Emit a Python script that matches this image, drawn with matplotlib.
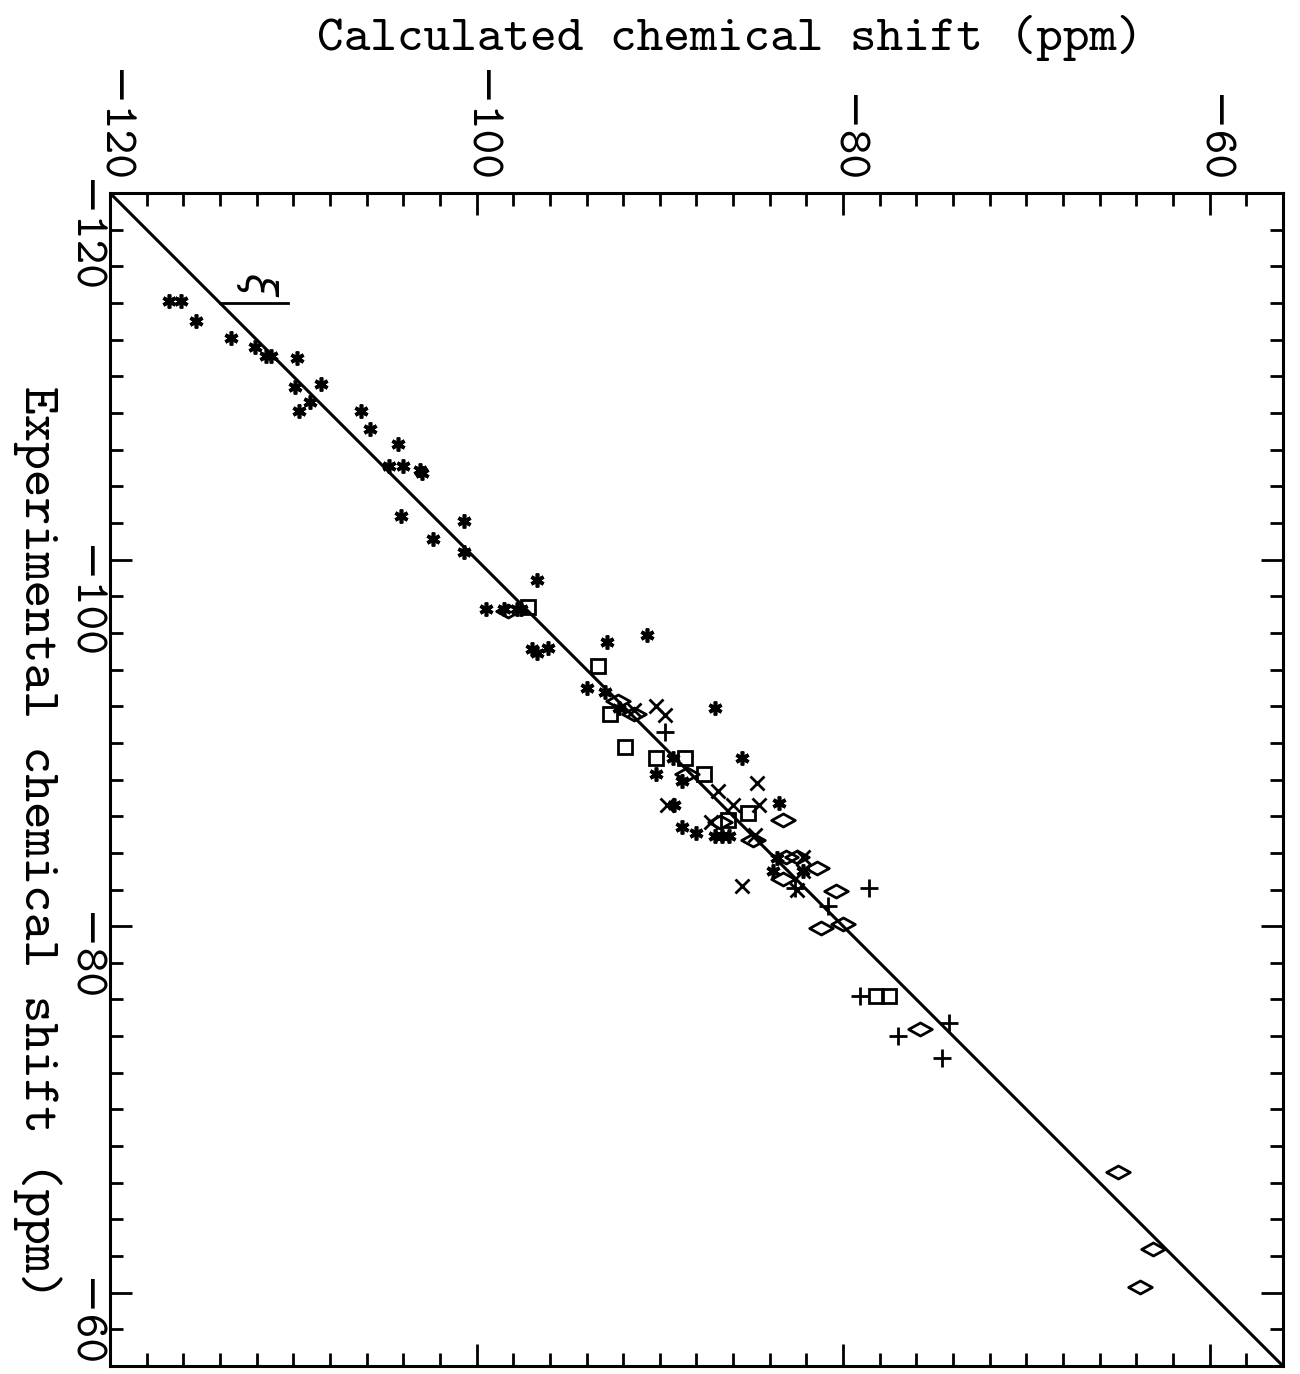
import numpy as np
import matplotlib
matplotlib.use('Agg')
import matplotlib.pyplot as plt
from matplotlib.ticker import MultipleLocator
from matplotlib.path import Path

plt.rcParams['font.family'] = ['cmtt10', 'DejaVu Serif']
plt.rcParams['axes.unicode_minus'] = True

# calculated shift (horizontal in picture) vs experimental shift (vertical, downward)
star_calc = [-116.8, -116.1, -115.3, -113.4, -112.1, -111.5, -111.2, -109.8, -109.9, -108.5,
             -109.1, -109.7, -106.3, -105.8, -104.3, -104.8, -104.0, -103.1, -103.0, -104.1,
             -100.7, -102.4, -100.7, -96.7, -99.5, -98.5, -97.8, -97.6, -97.0, -96.7,
             -96.1, -92.9, -90.7, -94.0, -93.0, -87.0, -89.3, -85.5, -90.2, -88.8,
             -89.2, -88.8, -88.0, -87.0, -86.6, -86.2, -83.5, -83.6, -83.8, -82.2, -92.2]
star_exp = [-114.1, -114.1, -113.0, -112.1, -111.6, -111.1, -111.1, -111.0, -109.4, -109.6,
            -108.6, -108.1, -108.1, -107.1, -106.3, -105.1, -105.1, -104.9, -104.7, -102.4,
            -102.1, -101.1, -100.4, -98.9, -97.3, -97.3, -97.3, -97.3, -95.1, -94.9,
            -95.2, -95.5, -95.9, -93.0, -92.8, -91.9, -89.2, -89.2, -88.3, -87.9,
            -86.6, -85.4, -85.1, -84.9, -84.9, -84.9, -86.7, -83.7, -83.0, -83.0, -91.9]

x_calc = [-91.4, -90.2, -89.7, -84.7, -86.8, -89.6, -86.0, -84.6, -87.2, -84.8,
          -82.2, -82.2, -85.5, -82.5]
x_exp = [-91.8, -92.0, -91.5, -87.8, -87.4, -86.6, -86.6, -86.6, -85.7, -85.0,
         -83.8, -83.0, -82.2, -82.0]

plus_calc = [-89.7, -82.6, -78.6, -80.8, -79.1, -77.0, -74.2, -74.6]
plus_exp = [-90.6, -82.1, -82.1, -81.1, -76.2, -74.0, -74.7, -72.8]

sq_calc = [-97.2, -93.4, -92.7, -91.9, -90.2, -88.6, -87.6, -85.2, -86.3, -78.2, -77.5]
sq_exp = [-97.4, -94.2, -91.6, -89.8, -89.2, -89.2, -88.3, -86.2, -85.8, -76.2, -76.2]

dia_calc = [-98.3, -92.3, -91.4, -88.5, -83.3, -86.7, -84.9, -83.1, -82.5, -81.4,
            -83.3, -80.4, -81.2, -80.0, -75.8, -65.0, -63.1, -63.8]
dia_exp = [-97.2, -92.3, -91.6, -88.3, -85.8, -85.7, -84.7, -83.8, -83.8, -83.2,
           -82.6, -81.9, -79.9, -80.1, -74.4, -66.6, -62.4, -60.3]

fit_line = [-120, -56]

fig = plt.figure(figsize=(13, 13.74), dpi=100)
ax = fig.add_axes([0.0846, 0.0058, 0.9023, 0.8537])

ax.plot(fit_line, fit_line, color='k', lw=2.2)
ax.plot([-114.0, -110.3], [-114.0, -114.0], color='k', lw=2.0)
ax.text(-112.0, -115.0, r'$\xi$', fontsize=30, rotation=-90, ha='center', va='center')

# wide diamond as in the scan
dmd = Path([(-1, 0), (0, 0.55), (1, 0), (0, -0.55), (-1, 0)],
           [Path.MOVETO, Path.LINETO, Path.LINETO, Path.LINETO, Path.CLOSEPOLY])

ax.plot(star_calc, star_exp, ls='none', marker=(6, 2, 0), ms=10, mew=2.6, color='k')
ax.plot(x_calc, x_exp, ls='none', marker='x', ms=10, mew=2.0, color='k')
ax.plot(plus_calc, plus_exp, ls='none', marker='+', ms=13, mew=2.0, color='k')
ax.plot(sq_calc, sq_exp, ls='none', marker='s', ms=10, mew=2.0, mfc='none', mec='k')
ax.plot(dia_calc, dia_exp, ls='none', marker=dmd, ms=17, mew=2.0, mfc='none', mec='k')

ax.set_xlim(-120, -56)
ax.set_ylim(-56, -120)

ax.xaxis.set_major_locator(MultipleLocator(20))
ax.xaxis.set_minor_locator(MultipleLocator(2))
ax.yaxis.set_major_locator(MultipleLocator(20))
ax.yaxis.set_minor_locator(MultipleLocator(2))

ax.tick_params(which='both', direction='in', top=True, bottom=True, left=True, right=True,
               labeltop=True, labelbottom=False, labelleft=True, labelright=False,
               width=2.0, colors='k')
ax.tick_params(which='major', length=16, labelsize=34, pad=7)
ax.tick_params(which='minor', length=9.5)
for lab in ax.get_xticklabels() + ax.get_yticklabels():
    lab.set_rotation(-90)

for s in ax.spines.values():
    s.set_linewidth(2.2)

fig.text(0.5615, 0.972, 'Calculated chemical shift (ppm)', fontsize=36.5,
         ha='center', va='center')
fig.text(0.029, 0.387, 'Experimental chemical shift (ppm)', fontsize=38,
         ha='center', va='center', rotation=-90)

fig.savefig('out.png', dpi=100)
